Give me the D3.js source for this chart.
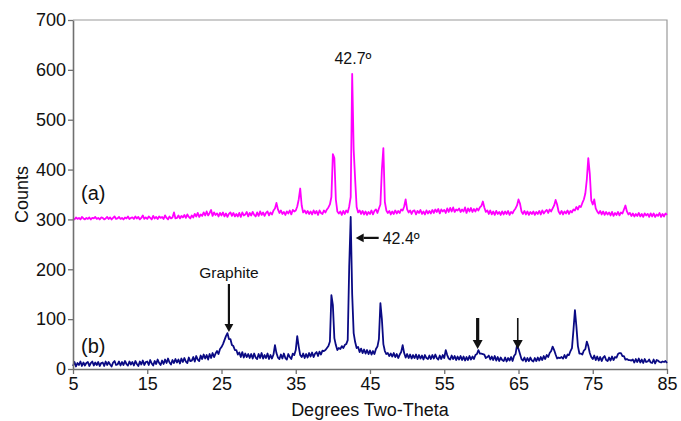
<!DOCTYPE html>
<html>
<head>
<meta charset="utf-8">
<script src="https://cdn.jsdelivr.net/npm/d3@7"></script>
<style>
  html, body { margin: 0; padding: 0; background: #fff; }
  svg { display: block; font-family: "Liberation Sans", Arial, sans-serif; }
</style>
</head>
<body>
<svg id="chart" width="681" height="421"></svg>
<script>
// XRD scan: 2-theta from 5 to 85 degrees, 0.2 degree step
const thetaStart = 5;
const thetaStep = 0.2;

// Pattern (a), offset by +300 counts
const countsA = [
  302,300,304,301,303,300,305,302,300,303,
  301,304,300,303,302,305,301,303,300,304,
  303,300,302,305,301,304,300,303,306,301,
  302,305,301,303,300,304,302,306,301,303,
  304,301,306,302,305,300,303,308,301,304,
  301,306,303,300,307,302,305,301,306,303,
  305,301,308,303,300,306,302,304,314,302,
  303,308,302,307,304,309,303,310,305,302,
  308,304,311,306,313,305,310,307,314,308,
  316,308,313,319,307,314,309,312,306,313,
  308,314,306,312,305,311,314,307,313,306,
  311,306,313,305,314,308,310,315,306,313,
  308,315,309,306,314,307,316,309,314,307,
  313,316,308,314,310,318,322,333,320,313,
  318,311,315,309,316,312,318,310,319,316,
  318,326,340,362,328,314,318,312,317,311,
  316,310,318,312,317,309,318,313,311,318,
  314,320,324,330,345,431,423,340,316,312,
  316,309,317,311,318,314,326,345,592,440,
  380,325,314,318,311,317,310,316,309,315,
  311,318,310,317,320,313,322,330,400,443,
  335,318,313,317,310,316,311,318,312,317,
  313,320,318,326,340,320,314,318,311,317,
  318,310,317,313,319,311,316,310,318,312,
  317,312,319,313,320,315,321,312,320,316,
  319,313,322,315,323,316,324,315,320,318,
  322,315,320,316,324,313,322,316,323,315,
  321,316,322,318,324,327,336,324,315,318,
  311,318,310,316,309,317,311,315,309,316,
  310,316,311,317,309,315,312,318,322,328,
  340,332,316,311,317,310,316,309,315,311,
  316,309,315,311,317,310,318,312,316,319,
  313,320,316,322,328,339,330,316,311,317,
  310,316,312,318,311,317,314,320,318,325,
  320,327,325,333,340,352,380,423,392,338,
  330,340,322,316,312,317,310,316,309,315,
  310,314,308,315,307,313,309,315,308,314,
  312,320,328,316,310,313,307,312,306,311,
  307,313,306,311,305,312,308,311,305,312,
  306,312,305,310,307,313,305,311,306,312,
  309
];

// Pattern (b)
const countsB = [
  6,14,5,12,8,15,6,13,7,12,
  14,6,12,15,7,13,8,14,6,12,
  13,6,15,8,14,9,5,13,16,8,
  9,15,7,14,8,16,10,7,15,9,
  14,7,16,10,6,15,9,17,8,14,
  15,8,18,11,7,16,10,19,12,8,
  17,10,19,12,21,13,9,18,12,20,
  13,19,11,21,14,22,15,12,23,16,
  17,24,15,26,19,16,27,20,29,21,
  28,19,30,22,32,24,31,36,30,40,
  44,50,58,66,72,60,60,48,46,38,
  38,29,33,24,34,23,31,24,30,22,
  30,21,31,23,20,30,22,32,21,28,
  22,31,20,28,21,29,48,32,23,20,
  29,21,31,22,19,30,24,20,31,28,
  38,66,45,28,24,31,22,30,23,32,
  25,33,24,31,34,26,35,29,37,36,
  38,42,46,55,148,128,62,48,38,42,
  40,46,42,48,50,58,205,305,150,72,
  54,42,44,34,41,32,39,31,38,30,
  37,29,36,30,40,45,60,132,100,50,
  36,30,32,26,31,25,32,24,30,22,
  29,34,48,32,23,30,22,29,21,28,
  22,29,20,28,21,27,19,28,22,20,
  27,20,28,21,29,22,19,27,20,28,
  22,38,28,21,19,27,20,26,18,25,
  19,26,18,25,17,24,18,26,19,25,
  20,28,30,38,31,31,30,29,22,24,
  27,19,25,18,26,17,24,16,23,18,
  16,23,15,22,17,24,16,26,30,48,
  40,30,20,17,23,15,22,16,23,17,
  15,22,16,23,17,24,18,26,20,28,
  24,32,36,45,38,29,21,23,22,24,
  21,28,22,29,28,36,42,78,118,85,
  46,31,31,29,37,40,55,46,32,24,
  20,27,18,25,17,24,16,23,26,18,
  16,23,17,25,18,24,23,30,32,32,
  26,26,19,20,18,18,17,19,13,20,
  14,21,13,19,12,20,14,15,19,13,
  12,19,11,18,17,14,13,15,14,16,
  12
];

const xTicks = [5, 15, 25, 35, 45, 55, 65, 75, 85];
const yTicks = [0, 100, 200, 300, 400, 500, 600, 700];

const seriesColors = { a: "#ff00ff", b: "#0a0a84" };

const W = 681, H = 421;
const margin = { top: 20, right: 14, bottom: 52, left: 73 };

const svg = d3.select("#chart");
const x = d3.scaleLinear().domain([5, 85]).range([margin.left, W - margin.right]);
const y = d3.scaleLinear().domain([0, 700]).range([H - margin.bottom, margin.top]);

const toPoints = arr => arr.map((c, i) => ({ t: thetaStart + i * thetaStep, c }));

// plot frame: light top / right edges
svg.append("path")
  .attr("d", `M${x(5)},${y(700)}H${x(85)}V${y(0)}`)
  .attr("fill", "none").attr("stroke", "#9a9a9a").attr("stroke-width", 1.2);

const line = d3.line().x(d => x(d.t)).y(d => y(d.c));

svg.append("path").datum(toPoints(countsA))
  .attr("d", line).attr("fill", "none")
  .attr("stroke", seriesColors.a).attr("stroke-width", 1.8).attr("stroke-linejoin", "round");

svg.append("path").datum(toPoints(countsB))
  .attr("d", line).attr("fill", "none")
  .attr("stroke", seriesColors.b).attr("stroke-width", 1.8).attr("stroke-linejoin", "round");

// axes
const xAxis = svg.append("g").attr("transform", `translate(0,${y(0)})`)
  .call(d3.axisBottom(x).tickValues(xTicks).tickSize(5).tickSizeOuter(0).tickPadding(3));
const yAxis = svg.append("g").attr("transform", `translate(${x(5)},0)`)
  .call(d3.axisLeft(y).tickValues(yTicks).tickSize(5).tickSizeOuter(0).tickPadding(2));

[xAxis, yAxis].forEach(g => {
  g.select(".domain").attr("stroke", "#707070").attr("stroke-width", 1.6);
  g.selectAll(".tick line").attr("stroke", "#707070").attr("stroke-width", 1.3);
  g.selectAll(".tick text").attr("fill", "#111").style("font-size", "18px")
    .style("font-family", "'Liberation Sans', Arial, sans-serif");
});

// axis titles
svg.append("text")
  .attr("x", (x(5) + x(85)) / 2).attr("y", 416)
  .attr("text-anchor", "middle").attr("fill", "#111").style("font-size", "18px")
  .text("Degrees Two-Theta");

svg.append("text")
  .attr("transform", `translate(28,${y(350)}) rotate(-90)`)
  .attr("text-anchor", "middle").attr("fill", "#111").style("font-size", "18px")
  .text("Counts");

// pattern labels
svg.append("text").attr("x", 81).attr("y", 200).attr("fill", "#111")
  .style("font-size", "20px").text("(a)");
svg.append("text").attr("x", 81).attr("y", 353).attr("fill", "#111")
  .style("font-size", "20px").text("(b)");

// peak annotations
const peakA = 42.7, peakB = 42.4;
svg.append("text").attr("x", x(peakA)).attr("y", y(612))
  .attr("text-anchor", "middle").attr("fill", "#111").style("font-size", "16px")
  .text(peakA.toFixed(1) + "º");

function arrow(x1, y1, x2, y2, w, head) {
  const ang = Math.atan2(y2 - y1, x2 - x1);
  const bx = x2 - head * Math.cos(ang), by = y2 - head * Math.sin(ang);
  svg.append("line").attr("x1", x1).attr("y1", y1).attr("x2", bx).attr("y2", by)
    .attr("stroke", "#111").attr("stroke-width", w);
  const hw = head * 0.55;
  const px = -Math.sin(ang) * hw, py = Math.cos(ang) * hw;
  svg.append("path")
    .attr("d", `M${x2},${y2}L${bx + px},${by + py}L${bx - px},${by - py}Z`)
    .attr("fill", "#111");
}

// 42.4 marker
const yB = y(263);
arrow(x(peakB) + 28, yB, x(peakB) + 5, yB, 2.2, 8);
svg.append("text").attr("x", x(peakB) + 32).attr("y", yB + 6)
  .attr("fill", "#111").style("font-size", "16px").text(peakB.toFixed(1) + "º");

// graphite reflection
const graphite = 26.0;
svg.append("text").attr("x", x(graphite)).attr("y", 278)
  .attr("text-anchor", "middle").attr("fill", "#111").style("font-size", "15.5px")
  .text("Graphite");
arrow(x(graphite), 284, x(graphite), y(74), 2.2, 8);

// unlabelled reflections in (b)
arrow(x(59.5), 318, x(59.5), y(40), 3.2, 9);
arrow(x(64.9), 318, x(64.9), y(40), 1.6, 9);
</script>
</body>
</html>
